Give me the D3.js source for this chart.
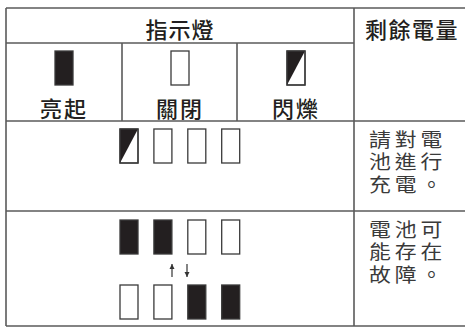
<!DOCTYPE html>
<html><head><meta charset="utf-8">
<script src="https://cdn.jsdelivr.net/npm/d3@7"></script>
<style>html,body{margin:0;padding:0;background:#fff;}svg{display:block;}</style>
</head><body>
<script>
// ---- data ----
const headerTitles = ["指示燈", "剩餘電量"];
const legendLabels = ["亮起", "關閉", "閃爍"];
const legendStates = ["on", "off", "blink"];
const row1States = ["blink", "off", "off", "off"];
const row2StatesA = ["on", "on", "off", "off"];
const row2StatesB = ["off", "off", "on", "on"];
const row1Text = ["請對電", "池進行", "充電。"];
const row2Text = ["電池可", "能存在", "故障。"];
const arrows = ["up", "down"];

const W = 465, H = 327;
const svg = d3.select("body").append("svg").attr("width", W).attr("height", H);

const lineColor = "#5a5a5a", ink = "#231f20";
const font = "'Noto Sans CJK TC','Noto Sans CJK SC',sans-serif";
const bodyFont = "'Liberation Sans','Noto Sans CJK TC','Noto Sans CJK SC',sans-serif";

// layout scales
const colX = d3.scaleOrdinal().domain(["left", "c1", "c2", "mid", "right"]).range([6, 122, 237, 354, 470]);
const rowY = d3.scaleOrdinal().domain(["top", "hdr", "leg", "r1", "bottom"]).range([8, 43, 121, 211, 326]);
const legendX = d3.scaleBand().domain(legendStates).range([colX("left"), colX("mid")]);
const iconX = d3.scaleBand().domain(d3.range(4)).range([120, 255.6]).paddingInner(0);
const iconW = 18, iconH = 34;

// grid lines
const lines = [
  [colX("left"), rowY("top"), colX("right"), rowY("top")],
  [colX("left"), rowY("hdr"), colX("mid"), rowY("hdr")],
  [colX("left"), rowY("leg"), colX("right"), rowY("leg")],
  [colX("left"), rowY("r1"), colX("right"), rowY("r1")],
  [colX("left"), rowY("bottom"), colX("right"), rowY("bottom")],
  [colX("left"), rowY("top"), colX("left"), rowY("bottom")],
  [colX("mid"), rowY("top"), colX("mid"), rowY("bottom")],
  [colX("c1"), rowY("hdr"), colX("c1"), rowY("leg")],
  [colX("c2"), rowY("hdr"), colX("c2"), rowY("leg")]
];
svg.selectAll("line.grid").data(lines).join("line").attr("class", "grid")
  .attr("x1", d => d[0]).attr("y1", d => d[1]).attr("x2", d => d[2]).attr("y2", d => d[3])
  .attr("stroke", lineColor).attr("stroke-width", 1.6);

// icon drawer
function icon(g, state, x, y) {
  const gg = g.append("g").attr("transform", `translate(${x},${y})`);
  gg.append("rect").attr("x", 0).attr("y", 0).attr("width", iconW).attr("height", iconH)
    .attr("fill", state === "on" ? ink : "#fff").attr("stroke", "#3a3a3a").attr("stroke-width", 1.3);
  if (state === "blink") {
    gg.append("path").attr("d", `M0,0 L${iconW},0 L0,${iconH} Z`).attr("fill", ink);
    gg.append("rect").attr("width", iconW).attr("height", iconH).attr("fill", "none")
      .attr("stroke", "#3a3a3a").attr("stroke-width", 1.3);
  }
}

// header text
svg.append("text").text(headerTitles[0]).attr("x", (colX("left") + colX("mid")) / 2).attr("y", 28)
  .attr("text-anchor", "middle").attr("dominant-baseline", "central").attr("letter-spacing", 1)
  .attr("font-family", font).attr("font-size", 22).attr("font-weight", 500).attr("fill", ink);
svg.append("text").text(headerTitles[1]).attr("x", 365).attr("y", 28)
  .attr("dominant-baseline", "central").attr("letter-spacing", 1.5)
  .attr("font-family", font).attr("font-size", 22).attr("font-weight", 500).attr("fill", ink);

// legend
legendStates.forEach((s, i) => {
  const cx = legendX(s) + legendX.bandwidth() / 2;
  icon(svg, s, cx - iconW / 2, 51);
  svg.append("text").text(legendLabels[i]).attr("x", cx).attr("y", 107)
    .attr("text-anchor", "middle").attr("dominant-baseline", "central").attr("letter-spacing", 2)
    .attr("font-family", font).attr("font-size", 22).attr("font-weight", 500).attr("fill", ink);
});

// row 1
row1States.forEach((s, i) => icon(svg, s, iconX(i), 129));
// row 2
row2StatesA.forEach((s, i) => icon(svg, s, iconX(i), 220));
row2StatesB.forEach((s, i) => icon(svg, s, iconX(i), 285));

// arrows
const arrowX = d3.scaleOrdinal().domain(arrows).range([172, 187]);
arrows.forEach(a => {
  const x = arrowX(a), y0 = 264, y1 = 277;
  svg.append("line").attr("x1", x).attr("x2", x).attr("y1", y0).attr("y2", y1)
    .attr("stroke", "#333").attr("stroke-width", 1.2);
  const tipY = a === "up" ? y0 : y1, dir = a === "up" ? 1 : -1;
  svg.append("path").attr("d", `M${x - 2.5},${tipY + dir * 5} L${x},${tipY} L${x + 2.5},${tipY + dir * 5} Z`)
    .attr("fill", "#333");
});

// right column text
function para(lines, y0) {
  lines.forEach((t, i) => {
    svg.append("g").attr("transform", `translate(369,${y0 + i * 22.5}) scale(1.15,1)`)
      .append("text").text(t).attr("x", 0).attr("y", 0)
      .attr("dominant-baseline", "central").attr("letter-spacing", 3.4)
      .attr("font-family", bodyFont).attr("font-size", 19).attr("fill", "#3a3a3a");
  });
}
para(row1Text, 140);
para(row2Text, 230);
</script>
</body></html>
